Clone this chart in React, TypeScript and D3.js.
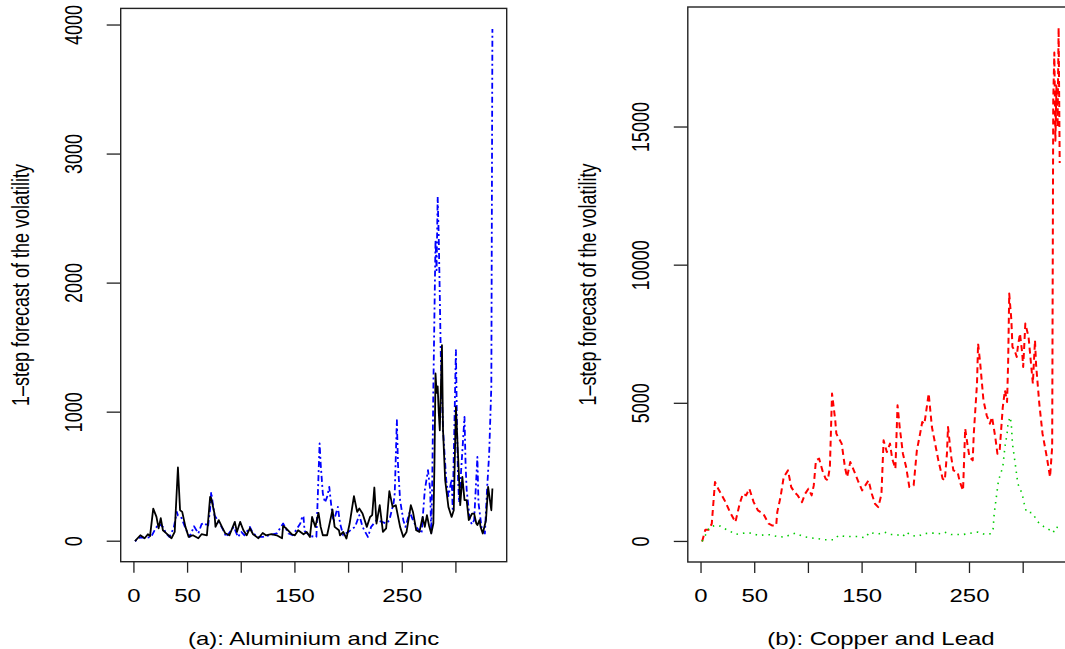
import React from 'react';
import * as d3 from 'd3';

// (a) black solid + blue dot-dash, (b) red dashed + green dotted
const alIdx = [1, 6, 10, 13, 15, 18, 21, 23, 25, 27, 30, 35, 38, 41, 43, 45, 48, 51, 55, 60, 63, 68, 71, 72, 75, 76, 79, 82, 85, 89, 94, 96, 99, 102, 105, 108, 111, 116, 120, 123, 128, 133, 138, 139, 142, 147, 150, 153, 158, 161, 164, 166, 169, 172, 174, 176, 180, 183, 185, 187, 191, 192, 195, 198, 201, 205, 208, 210, 213, 217, 220, 222, 224, 226, 229, 232, 235, 238, 241, 244, 248, 251, 254, 258, 260, 263, 266, 269, 271, 273, 275, 277, 279, 280, 281, 282, 283, 284, 285, 287, 288, 290, 293, 296, 298, 299, 300, 303, 304, 306, 308, 310, 312, 315, 317, 319, 320, 322, 323, 325, 328, 330, 333, 334];
const alVol = [0, 46, 23, 54, 40, 253, 189, 100, 178, 85, 62, 23, 72, 571, 240, 227, 111, 33, 46, 23, 54, 46, 343, 333, 217, 111, 163, 111, 62, 46, 150, 72, 150, 85, 46, 100, 54, 23, 64, 46, 54, 46, 23, 119, 98, 54, 46, 85, 54, 72, 33, 188, 111, 220, 111, 46, 46, 163, 245, 111, 85, 46, 72, 21, 137, 349, 227, 253, 214, 111, 188, 202, 416, 137, 279, 72, 100, 388, 266, 279, 111, 33, 72, 279, 227, 85, 72, 188, 111, 202, 120, 60, 137, 600, 1300, 1150, 1200, 1000, 860, 1519, 860, 473, 266, 188, 240, 653, 1041, 473, 279, 498, 318, 318, 163, 214, 214, 137, 125, 163, 110, 60, 163, 421, 240, 408];

const znIdx = [1, 6, 11, 16, 19, 23, 27, 30, 33, 37, 40, 41, 44, 48, 52, 56, 60, 63, 66, 69, 71, 72, 75, 80, 83, 86, 93, 97, 100, 103, 108, 111, 116, 120, 126, 133, 139, 144, 148, 155, 157, 158, 159, 164, 170, 173, 174, 176, 178, 180, 182, 184, 186, 190, 192, 195, 201, 206, 210, 213, 218, 221, 226, 231, 235, 238, 242, 243, 245, 246, 248, 251, 253, 257, 260, 263, 268, 271, 274, 276, 277, 278, 279, 280, 281, 282, 283, 284, 285, 286, 288, 291, 293, 296, 297, 300, 301, 302, 303, 308, 309, 310, 313, 315, 317, 320, 321, 324, 327, 329, 331, 333, 334];
const znVol = [0, 30, 25, 33, 80, 137, 111, 60, 33, 100, 227, 200, 188, 100, 33, 116, 60, 132, 142, 111, 250, 382, 202, 137, 90, 33, 111, 33, 72, 46, 111, 60, 33, 33, 46, 60, 137, 60, 46, 137, 196, 188, 80, 40, 33, 757, 600, 370, 300, 343, 421, 266, 150, 266, 140, 46, 80, 111, 202, 111, 33, 111, 163, 150, 137, 163, 300, 370, 938, 600, 318, 163, 111, 227, 163, 111, 60, 395, 550, 400, 60, 500, 1196, 1765, 2333, 2100, 2669, 2359, 1894, 1400, 860, 473, 350, 480, 250, 1481, 900, 480, 300, 963, 600, 400, 163, 130, 163, 653, 300, 100, 60, 400, 680, 1200, 3970];

const cuIdx = [1, 4, 7, 10, 13, 16, 22, 27, 32, 36, 39, 42, 45, 49, 53, 58, 63, 66, 70, 71, 74, 77, 81, 84, 87, 90, 94, 97, 100, 103, 105, 107, 110, 113, 116, 118, 120, 122, 125, 126, 131, 134, 136, 139, 142, 146, 150, 153, 156, 159, 162, 165, 168, 170, 173, 176, 178, 181, 183, 185, 188, 191, 194, 198, 201, 204, 206, 208, 212, 215, 218, 221, 225, 227, 229, 230, 233, 235, 239, 241, 244, 246, 248, 250, 253, 254, 257, 258, 260, 263, 266, 269, 271, 274, 276, 278, 281, 283, 285, 286, 287, 289, 290, 292, 294, 295, 297, 299, 300, 302, 305, 307, 309, 311, 312, 315, 318, 322, 325, 327, 328, 329, 330, 331, 332, 333, 334];
const cuVol = [0, 424, 424, 641, 2150, 1909, 1485, 1062, 700, 1366, 1728, 1667, 1909, 1424, 1123, 1003, 641, 580, 580, 1062, 1605, 2330, 2572, 1967, 1786, 1667, 1424, 1728, 1909, 1667, 2029, 2935, 2996, 2572, 2272, 2210, 2692, 5351, 4384, 3902, 3540, 2692, 2330, 2873, 2600, 2210, 1848, 2029, 2210, 1728, 1366, 1243, 1700, 3659, 3236, 3540, 3000, 2633, 4928, 4141, 3177, 2692, 1967, 2029, 3297, 3902, 4322, 4250, 5351, 4141, 3540, 2935, 2272, 2210, 3177, 4141, 3054, 2572, 2500, 2150, 1848, 4083, 3540, 3054, 2935, 3902, 5714, 7163, 6438, 5109, 4565, 4264, 4504, 3779, 3177, 3240, 4866, 5471, 5047, 6496, 8975, 8007, 7040, 6920, 6678, 7040, 7525, 6859, 6316, 7888, 7402, 6558, 5714, 7282, 6400, 4989, 3902, 3054, 2330, 3417, 16000, 17700, 14500, 16500, 15000, 18600, 13700];

const pbIdx = [1, 4, 8, 13, 18, 22, 27, 32, 36, 43, 47, 53, 60, 64, 71, 78, 83, 88, 95, 101, 109, 115, 124, 128, 134, 140, 146, 153, 157, 162, 166, 171, 176, 182, 188, 191, 196, 202, 207, 213, 218, 223, 227, 233, 239, 244, 248, 253, 258, 264, 270, 272, 273, 275, 277, 281, 283, 285, 286, 288, 289, 290, 293, 295, 299, 301, 303, 308, 312, 315, 319, 323, 328, 330, 334];
const pbVol = [0, 217, 518, 580, 554, 460, 370, 254, 279, 315, 300, 217, 240, 240, 181, 156, 243, 301, 181, 134, 98, 62, 62, 217, 181, 181, 181, 134, 337, 279, 279, 337, 250, 250, 181, 337, 217, 181, 279, 301, 301, 279, 337, 250, 250, 250, 279, 315, 337, 254, 279, 460, 1003, 1605, 2210, 2692, 3417, 3902, 4322, 4504, 4200, 3540, 2692, 2090, 1728, 1366, 1062, 1040, 822, 641, 543, 460, 315, 518, 500];

const xTicks = [0, 50, 100, 150, 200, 250, 300];
const xTickLabels = ['0', '50', '', '150', '', '250', ''];
const yTicksA = [0, 1000, 2000, 3000, 4000];
const yTicksB = [0, 5000, 10000, 15000];

const FONT = '"Liberation Sans", Arial, Helvetica, sans-serif';
const FS = 18;
const SX = 1.33; // the picture is stretched sideways, text too

type Series = { idx: number[]; vol: number[]; color: string; dash: string; width: number };
type Box = { left: number; right: number; top: number; bottom: number };

function Panel({ box, series, yTicks, title }: { box: Box; series: Series[]; yTicks: number[]; title: string }) {
  const n = d3.max(series.flatMap(s => s.idx)) as number;
  const x = d3.scaleLinear()
    .domain([1 - 0.04 * (n - 1), n + 0.04 * (n - 1)])
    .range([box.left, box.right]);
  const [lo, hi] = d3.extent(series.flatMap(s => s.vol)) as [number, number];
  const pad = 0.04 * (hi - lo);
  const y = d3.scaleLinear().domain([lo - pad, hi + pad]).range([box.bottom, box.top]);

  const midX = (box.left + box.right) / 2;
  const midY = (box.top + box.bottom) / 2;

  return (
    <g>
      {series.map((s, k) => {
        const line = d3.line<number>()
          .x((_, i) => x(s.idx[i]))
          .y(d => y(d));
        return (
          <path key={k} d={line(s.vol) || ''} fill="none" stroke={s.color}
            strokeWidth={s.width} strokeDasharray={s.dash} strokeLinejoin="round" />
        );
      })}
      <rect x={box.left} y={box.top} width={box.right - box.left} height={box.bottom - box.top}
        fill="none" stroke="#222" strokeWidth={1.4} />

      {xTicks.map((t, i) => (
        <g key={'xt' + t}>
          <line x1={x(t)} x2={x(t)} y1={box.bottom} y2={box.bottom + 11} stroke="#222" strokeWidth={1.3} />
          {xTickLabels[i] && (
            <text transform={`translate(${x(t)},${box.bottom + 40}) scale(${SX},1)`} textAnchor="middle"
              fontFamily={FONT} fontSize={FS}>{xTickLabels[i]}</text>
          )}
        </g>
      ))}

      {yTicks.map(t => (
        <g key={'yt' + t}>
          <line x1={box.left - 14} x2={box.left} y1={y(t)} y2={y(t)} stroke="#222" strokeWidth={1.3} />
          <text transform={`translate(${box.left - 39},${y(t)}) scale(${SX},1) rotate(-90)`} textAnchor="middle"
            fontFamily={FONT} fontSize={FS}>{t}</text>
        </g>
      ))}

      <text transform={`translate(${box.left - 92},${midY}) scale(${SX},1) rotate(-90)`} textAnchor="middle"
        fontFamily={FONT} fontSize={FS}>1–step forecast of the volatility</text>
      <text transform={`translate(${midX},${box.bottom + 83}) scale(${SX},1)`} textAnchor="middle"
        fontFamily={FONT} fontSize={FS}>{title}</text>
    </g>
  );
}

export default function App() {
  const seriesA: Series[] = [
    { idx: znIdx, vol: znVol, color: '#0000FF', dash: '2,3,6,3', width: 1.8 },
    { idx: alIdx, vol: alVol, color: '#000000', dash: '', width: 1.8 },
  ];
  const seriesB: Series[] = [
    { idx: cuIdx, vol: cuVol, color: '#FF0000', dash: '6,4', width: 2 },
    { idx: pbIdx, vol: pbVol, color: '#00CC00', dash: '1.5,5', width: 1.6 },
  ];
  return (
    <svg width={1065} height={649} style={{ position: 'absolute', left: 0, top: 0, background: '#fff' }}>
      <rect width={1065} height={649} fill="#fff" />
      <Panel box={{ left: 120.7, right: 506.7, top: 8.4, bottom: 561.7 }} series={seriesA}
        yTicks={yTicksA} title="(a): Aluminium and Zinc" />
      <Panel box={{ left: 687.8, right: 1074, top: 7, bottom: 562 }} series={seriesB}
        yTicks={yTicksB} title="(b): Copper and Lead" />
    </svg>
  );
}
